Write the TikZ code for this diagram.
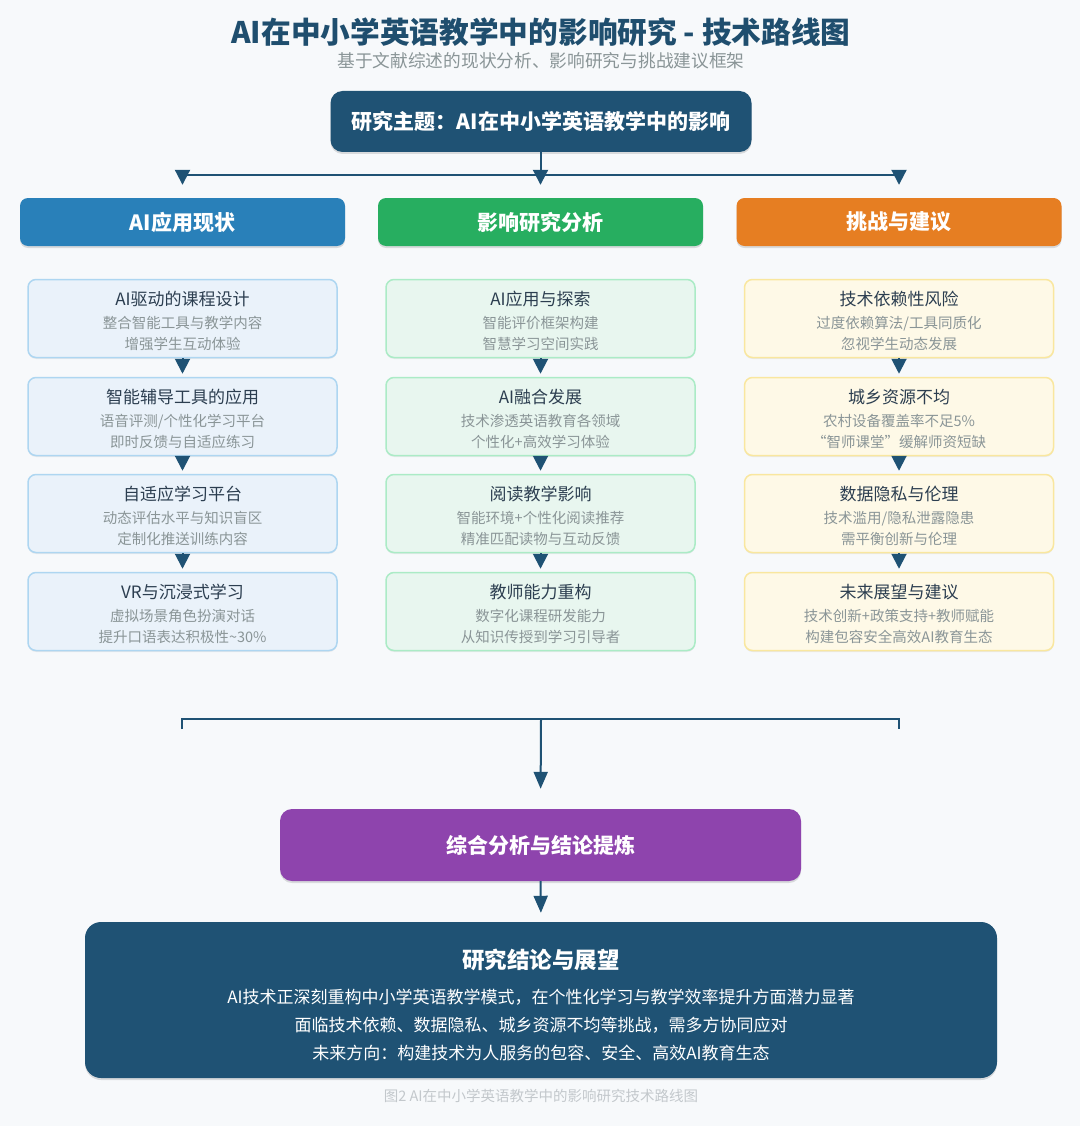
\documentclass[tikz,border=0pt]{standalone}
\usepackage{fontspec}
\setmainfont{Noto Sans CJK SC}
\usetikzlibrary{arrows.meta,calc,shadows}
\definecolor{bg}{HTML}{F7F9FB}
\definecolor{navy}{HTML}{1F5274}
\definecolor{ttl}{HTML}{1F4E6E}
\definecolor{hblue}{HTML}{2980B9}
\definecolor{hgreen}{HTML}{27AE60}
\definecolor{horange}{HTML}{E67E22}
\definecolor{hpurple}{HTML}{8E44AD}
\definecolor{fa}{HTML}{EAF2FA}\definecolor{ba}{HTML}{AED6F1}
\definecolor{fb}{HTML}{E8F6EF}\definecolor{bb}{HTML}{ABEBC6}
\definecolor{fc}{HTML}{FEF9E7}\definecolor{bc}{HTML}{F9E79F}
\definecolor{ctitle}{HTML}{2C3E50}
\definecolor{csub}{HTML}{8A9597}
\definecolor{capc}{HTML}{C3C8CC}
\tikzset{
  softshadow/.style={drop shadow={opacity=0.12,shadow xshift=0pt,shadow yshift=-2pt,fill=black}},
  boxbase/.style={rounded corners=#1,inner sep=0pt,softshadow},
  headbox/.style={boxbase=8pt,fill=#1,minimum width=325pt,minimum height=48pt,text=white,font=\fontsize{21}{21}\selectfont\bfseries},
  cardbase/.style={rounded corners=8pt,minimum width=309pt,minimum height=78pt,line width=1.5pt,inner sep=0pt,drop shadow={opacity=0.06,shadow xshift=0pt,shadow yshift=-1.5pt,fill=black}},
  cardA/.style={cardbase,fill=fa,draw=ba},
  cardB/.style={cardbase,fill=fb,draw=bb},
  cardC/.style={cardbase,fill=fc,draw=bc},
  cardtitle/.style={text=ctitle,font=\fontsize{17}{17}\selectfont,inner sep=0pt},
  cardsub/.style={text=csub,font=\fontsize{14.5}{21}\selectfont,align=center,inner sep=0pt},
  conn/.style={draw=navy,line width=2.2pt},
  tri/.style={draw=navy,line width=2pt,-{Triangle[length=15pt,width=15pt]}},
  tri2/.style={draw=navy,line width=2pt,-{Triangle[length=17pt,width=14pt]}},
}
\newcommand\mkcard[7]{%
  \node[#4] (#1) at (#2,#3) {};
  \node[cardtitle] (#1t) at ($(#1.center)+(0,-19.5)$) {#5};
  \node[cardsub] (#1s) at ($(#1.center)+(0,15)$) {#6\\#7};
}
\begin{document}
\begin{tikzpicture}[x=1pt,y=-1pt]
\fill[bg] (0,0) rectangle (1080,1126);
\useasboundingbox (0,0) rectangle (1080,1126);

\node[text=ttl,font=\fontsize{29.7}{29.7}\selectfont\bfseries,inner sep=0pt] (title) at (541,32) {AI在中小学英语教学中的影响研究 - 技术路线图};
\node[text=csub,font=\fontsize{17.7}{17.7}\selectfont,inner sep=0pt] (subtitle) at (541,61) {基于文献综述的现状分析、影响研究与挑战建议框架};

\node[boxbase=12pt,fill=navy,minimum width=421pt,minimum height=61pt,text=white,font=\fontsize{21}{21}\selectfont\bfseries] (top) at (541,121.5) {研究主题：AI在中小学英语教学中的影响};

\node[headbox=hblue] (h1) at (182.5,222) {AI应用现状};
\node[headbox=hgreen] (h2) at (540.5,222) {影响研究分析};
\node[headbox=horange] (h3) at (899,222) {挑战与建议};

\coordinate (j) at (541,175);
\draw[conn] (top.south) -- (j);
\draw[conn] (j -| h1.north) -- (j -| h3.north);
\draw[tri,shorten >=13pt] (j -| h1.north) -- (h1.north);
\draw[tri,shorten >=13pt] (j -| h2.north) -- (h2.north);
\draw[tri,shorten >=13pt] (j -| h3.north) -- (h3.north);

% column 1
\mkcard{a1}{182.5}{318.5}{cardA}{AI驱动的课程设计}{整合智能工具与教学内容}{增强学生互动体验}
\mkcard{a2}{182.5}{416.5}{cardA}{智能辅导工具的应用}{语音评测/个性化学习平台}{即时反馈与自适应练习}
\mkcard{a3}{182.5}{513.5}{cardA}{自适应学习平台}{动态评估水平与知识盲区}{定制化推送训练内容}
\mkcard{a4}{182.5}{611.5}{cardA}{VR与沉浸式学习}{虚拟场景角色扮演对话}{提升口语表达积极性\textasciitilde30\%}
% column 2
\mkcard{b1}{540.5}{318.5}{cardB}{AI应用与探索}{智能评价框架构建}{智慧学习空间实践}
\mkcard{b2}{540.5}{416.5}{cardB}{AI融合发展}{技术渗透英语教育各领域}{个性化+高效学习体验}
\mkcard{b3}{540.5}{513.5}{cardB}{阅读教学影响}{智能环境+个性化阅读推荐}{精准匹配读物与互动反馈}
\mkcard{b4}{540.5}{611.5}{cardB}{教师能力重构}{数字化课程研发能力}{从知识传授到学习引导者}
% column 3
\mkcard{c1}{899}{318.5}{cardC}{技术依赖性风险}{过度依赖算法/工具同质化}{忽视学生动态发展}
\mkcard{c2}{899}{416.5}{cardC}{城乡资源不均}{农村设备覆盖率不足5\%}{“智师课堂”缓解师资短缺}
\mkcard{c3}{899}{513.5}{cardC}{数据隐私与伦理}{技术滥用/隐私泄露隐患}{需平衡创新与伦理}
\mkcard{c4}{899}{611.5}{cardC}{未来展望与建议}{技术创新+政策支持+教师赋能}{构建包容安全高效AI教育生态}

\foreach \c in {a,b,c}{
  \draw[tri,shorten >=3pt] (\c1.south) -- (\c2.north);
  \draw[tri,shorten >=3pt] (\c2.south) -- (\c3.north);
  \draw[tri,shorten >=3pt] (\c3.south) -- (\c4.north);
}

% merge bracket
\node[boxbase=12pt,fill=hpurple,minimum width=521pt,minimum height=72pt,text=white,font=\fontsize{21}{21}\selectfont\bfseries] (syn) at (540.5,845) {综合分析与结论提炼};
\coordinate (bl) at (182,729);
\coordinate (br) at (899,729);
\coordinate (bm) at (541,719);
\draw[conn] (bl) -- (bl |- bm) -- (br |- bm) -- (br);
\draw[tri2,shorten >=20pt] (bm) -- (syn.north);

\node[boxbase=16pt,fill=navy,minimum width=912pt,minimum height=156pt] (concl) at (541,1000) {};
\draw[tri2,shorten >=9pt] (syn.south) -- (concl.north);
\node[text=white,font=\fontsize{22.5}{22.5}\selectfont\bfseries,inner sep=0pt] (conclt) at ($(concl.center)+(0,-40)$) {研究结论与展望};
\node[text=white,font=\fontsize{17}{28}\selectfont,align=center,inner sep=0pt] (concls) at ($(concl.center)+(0,25)$) {AI技术正深刻重构中小学英语教学模式，在个性化学习与教学效率提升方面潜力显著\\面临技术依赖、数据隐私、城乡资源不均等挑战，需多方协同应对\\未来方向：构建技术为人服务的包容、安全、高效AI教育生态};

\node[text=capc,font=\fontsize{14.5}{14.5}\selectfont,inner sep=0pt] (cap) at (541,1096) {图2 AI在中小学英语教学中的影响研究技术路线图};
\end{tikzpicture}
\end{document}
